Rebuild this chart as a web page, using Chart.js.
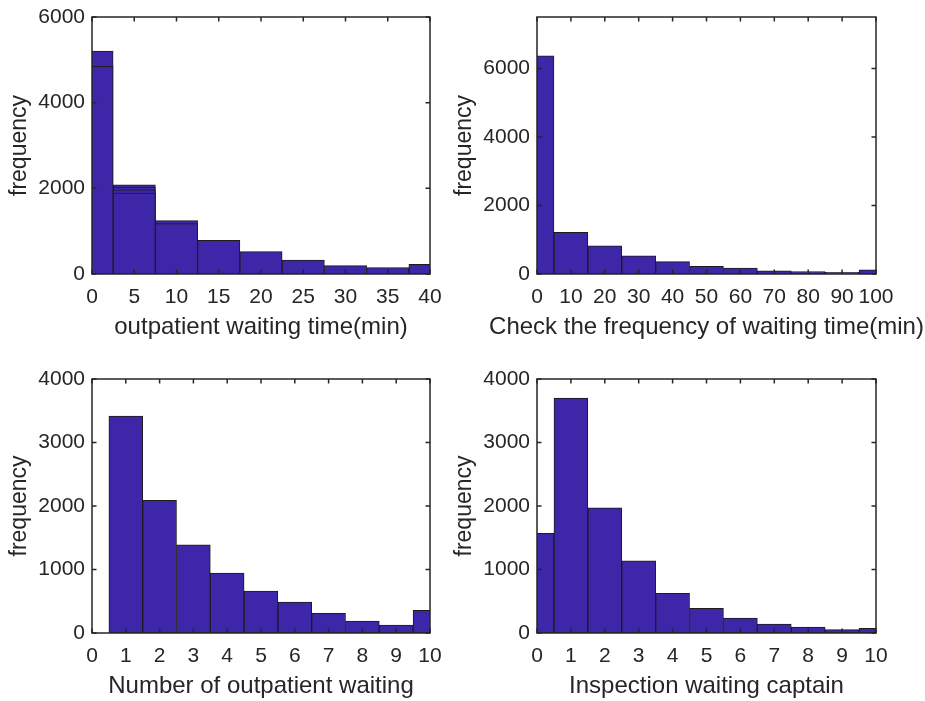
<!DOCTYPE html>
<html>
<head>
<meta charset="utf-8">
<script src="https://cdn.jsdelivr.net/npm/chart.js@4.4.1/dist/chart.umd.min.js"></script>
<style>
  html, body { margin: 0; padding: 0; background: #ffffff; }
  #wrap { position: relative; width: 925px; height: 701px; overflow: hidden; }
  #wrap canvas { position: absolute; left: 0; top: 0; }
</style>
</head>
<body>
<div id="wrap">
  <canvas id="c1" width="925" height="701"></canvas>
  <canvas id="c2" width="925" height="701"></canvas>
  <canvas id="c3" width="925" height="701"></canvas>
  <canvas id="c4" width="925" height="701"></canvas>
</div>
<script>
// ---------- Data ----------
// Panel 1: outpatient waiting time (min), bin centres
const p1Bins = [0, 5, 10, 15, 20, 25, 30, 35, 40];
// overlapping histogram layers (front to back)
const p1LayerA = [4850, 1890, 1175, 787, 521, 327, 194, 147, 226];
const p1LayerB = [null, 1965, null, null, null, null, null, null, null];
const p1LayerC = [null, 2030, null, null, null, null, null, null, null];
const p1LayerD = [5205, 2080, 1245, null, null, null, null, null, null];
const p1XTicks = [0, 5, 10, 15, 20, 25, 30, 35, 40];
const p1YTicks = [0, 2000, 4000, 6000];

// Panel 2: check waiting time (min)
const p2Bins = [0, 10, 20, 30, 40, 50, 60, 70, 80, 90, 100];
const p2Values = [6370, 1215, 825, 533, 359, 224, 175, 96, 67, 50, 125];
const p2XTicks = [0, 10, 20, 30, 40, 50, 60, 70, 80, 90, 100];
const p2YTicks = [0, 2000, 4000, 6000];

// Panel 3: number of outpatients waiting
const p3Bins = [0, 1, 2, 3, 4, 5, 6, 7, 8, 9, 10];
const p3Values = [0, 3418, 2091, 1390, 943, 660, 487, 310, 189, 126, 357];
const p3XTicks = [0, 1, 2, 3, 4, 5, 6, 7, 8, 9, 10];
const p3YTicks = [0, 1000, 2000, 3000, 4000];

// Panel 4: inspection waiting queue length
const p4Bins = [0, 1, 2, 3, 4, 5, 6, 7, 8, 9, 10];
const p4Values = [1568, 3701, 1972, 1138, 624, 388, 236, 142, 94, 53, 74];
const p4XTicks = [0, 1, 2, 3, 4, 5, 6, 7, 8, 9, 10];
const p4YTicks = [0, 1000, 2000, 3000, 4000];

// ---------- Styling ----------
const FILL = '#3d26a8';
const EDGE = '#1c1c1c';
const AXIS = '#262626';
const FONT = '"Liberation Sans", Arial, Helvetica, sans-serif';
Chart.defaults.font.family = FONT;
Chart.defaults.color = AXIS;

const boxTicks = {
  id: 'boxTicks',
  afterDatasetsDraw(chart) {
    const {ctx, chartArea: a, scales: {x, y}} = chart;
    const tl = 4.5;
    ctx.save();
    ctx.strokeStyle = AXIS;
    ctx.lineWidth = 1.5;
    ctx.beginPath();
    x.ticks.forEach(t => {
      const px = x.getPixelForValue(t.value);
      ctx.moveTo(px, a.bottom); ctx.lineTo(px, a.bottom - tl);
      ctx.moveTo(px, a.top); ctx.lineTo(px, a.top + tl);
    });
    y.ticks.forEach(t => {
      const py = y.getPixelForValue(t.value);
      ctx.moveTo(a.left, py); ctx.lineTo(a.left + tl, py);
      ctx.moveTo(a.right, py); ctx.lineTo(a.right - tl, py);
    });
    ctx.stroke();
    ctx.strokeRect(a.left, a.top, a.right - a.left, a.bottom - a.top);
    // x-axis label (drawn without width compression, like MATLAB)
    const txt = chart.options.plugins.boxTicks.xTitle;
    ctx.fillStyle = AXIS;
    ctx.font = '24px ' + FONT;
    ctx.textAlign = 'center';
    ctx.textBaseline = 'alphabetic';
    ctx.fillText(txt, (a.left + a.right) / 2, a.bottom + 60);
    ctx.restore();
  }
};

function toPoints(xs, ys) {
  return xs.map((x, i) => ({x: x, y: ys[i]}));
}

function makeChart(id, area, bins, layers, xMax, xTicks, yMax, yTicks, xTitle) {
  const YW = 92, XH = 67;
  const datasets = layers.map(vals => ({
    data: toPoints(bins, vals),
    backgroundColor: FILL,
    borderColor: EDGE,
    borderWidth: 1,
    borderSkipped: false,
    barPercentage: 1,
    categoryPercentage: 1,
    grouped: false,
    clip: 0
  }));
  return new Chart(document.getElementById(id), {
    type: 'bar',
    data: { datasets },
    plugins: [boxTicks],
    options: {
      responsive: false,
      animation: false,
      events: [],
      layout: {
        padding: {
          left: area.left - YW,
          top: area.top,
          right: 925 - area.right,
          bottom: 701 - area.bottom - XH
        }
      },
      plugins: {
        legend: { display: false },
        tooltip: { enabled: false },
        boxTicks: { xTitle: xTitle }
      },
      scales: {
        x: {
          type: 'linear',
          min: 0, max: xMax,
          offset: false,
          grid: { display: false, drawTicks: false },
          border: { display: false },
          afterFit: s => { s.height = XH; s.paddingLeft = 0; s.paddingRight = 0; },
          afterBuildTicks: s => { s.ticks = xTicks.map(v => ({value: v})); },
          ticks: { font: { size: 21 }, padding: 11, maxRotation: 0, autoSkip: false, color: AXIS,
                   callback: v => String(v) },
          title: { display: false }
        },
        y: {
          type: 'linear',
          min: 0, max: yMax,
          grid: { display: false, drawTicks: false },
          border: { display: false },
          afterFit: s => { s.width = YW; s.paddingTop = 0; s.paddingBottom = 0; },
          afterBuildTicks: s => { s.ticks = yTicks.map(v => ({value: v})); },
          ticks: { font: { size: 21 }, padding: 7, color: AXIS, callback: v => String(v) },
          title: { display: true, text: 'frequency', font: { size: 23 }, padding: { top: 6, bottom: 0 }, color: AXIS }
        }
      }
    }
  });
}

makeChart('c1', {left: 92, top: 17, right: 430, bottom: 274}, p1Bins,
  [p1LayerA, p1LayerB, p1LayerC, p1LayerD], 40, p1XTicks, 6000, p1YTicks,
  'outpatient waiting time(min)');
makeChart('c2', {left: 537, top: 17, right: 876, bottom: 274}, p2Bins,
  [p2Values], 100, p2XTicks, 7500, p2YTicks,
  'Check the frequency of waiting time(min)');
makeChart('c3', {left: 92, top: 379, right: 430, bottom: 633}, p3Bins,
  [p3Values], 10, p3XTicks, 4000, p3YTicks,
  'Number of outpatient waiting');
makeChart('c4', {left: 537, top: 379, right: 876, bottom: 633}, p4Bins,
  [p4Values], 10, p4XTicks, 4000, p4YTicks,
  'Inspection waiting captain');
</script>
</body>
</html>
